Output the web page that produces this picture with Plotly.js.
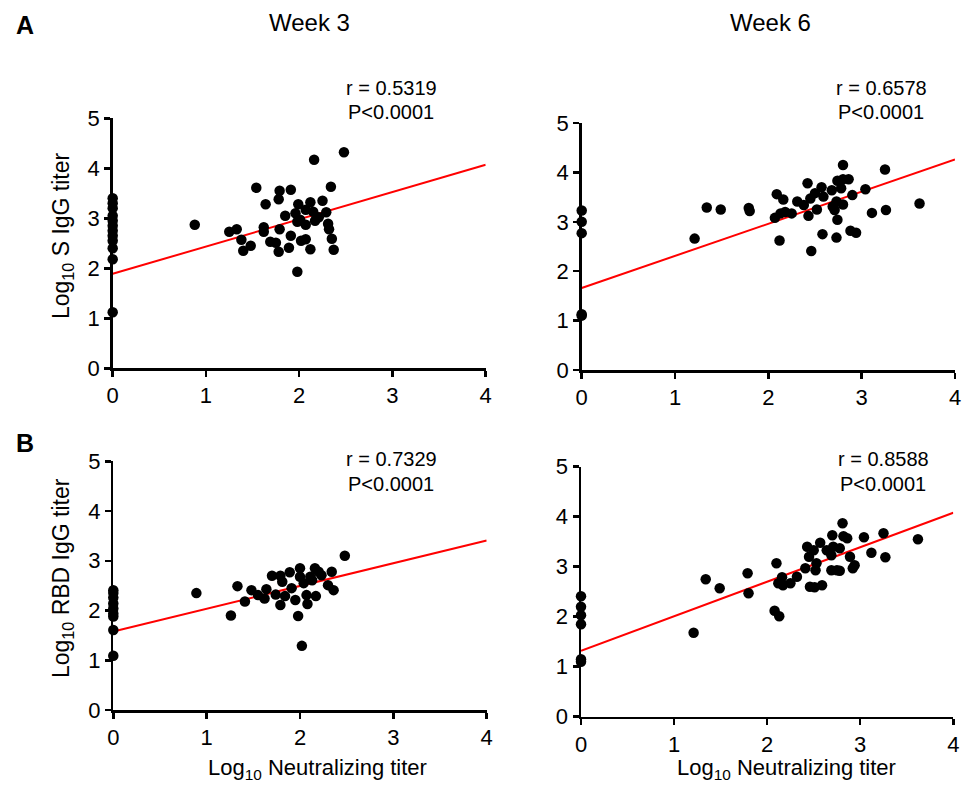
<!DOCTYPE html>
<html>
<head>
<meta charset="utf-8">
<script src="https://cdn.plot.ly/plotly-3.0.1.min.js"></script>
<style>
  html, body { margin: 0; padding: 0; background: #fff; }
  #chart { width: 967px; height: 786px; }
</style>
</head>
<body>
<div id="chart"></div>
<script>
// Week 3, S IgG vs neutralizing titer (log10)
const sW3x = [0,0,0,0,0,0,0,0,0,0,0,0,
  0.88,1.25,1.33,1.38,1.48,1.40,1.54,1.64,1.62,1.62,1.69,1.75,1.78,1.79,1.79,1.78,
  1.91,1.85,1.91,1.89,1.96,1.99,1.98,2.01,2.07,2.02,2.07,2.12,1.98,2.16,2.12,2.07,
  2.15,2.17,2.21,2.25,2.29,2.34,2.31,2.32,2.35,2.37,2.48];
const sW3y = [3.4,3.3,3.2,3.05,2.95,2.85,2.75,2.65,2.55,2.4,2.18,1.12,
  2.87,2.73,2.78,2.57,2.45,2.35,3.61,3.28,2.82,2.73,2.53,2.51,2.33,2.78,3.55,3.38,
  3.57,3.05,2.65,2.41,3.10,3.28,2.93,2.97,2.87,2.55,2.58,2.38,1.93,4.17,3.32,3.17,
  3.13,2.95,3.02,3.35,3.12,3.63,2.89,2.78,2.59,2.37,4.32];

// Week 6, S IgG vs neutralizing titer (log10)
const sW6x = [0,0,0,0,0,
  1.21,1.34,1.49,1.79,1.80,2.09,2.16,2.07,2.13,2.18,2.25,2.12,2.31,2.42,2.38,2.43,
  2.46,2.45,2.50,2.52,2.57,2.59,2.58,2.68,2.69,2.71,2.73,2.74,2.73,2.74,2.78,2.80,
  2.80,2.86,2.80,2.88,2.94,2.90,3.04,3.11,3.25,3.26,3.62];
const sW6y = [3.23,3.0,2.77,1.1,1.13,
  2.66,3.29,3.25,3.28,3.22,3.56,3.45,3.08,3.17,3.20,3.17,2.62,3.41,3.78,3.34,3.12,
  2.41,3.47,3.58,3.25,3.70,3.51,2.75,3.64,3.31,3.24,3.41,3.04,2.68,3.83,3.68,4.15,
  3.86,3.86,3.35,2.82,2.78,3.54,3.66,3.18,4.06,3.24,3.37];

// Week 3, RBD IgG vs neutralizing titer (log10)
const rW3x = [0,0,0,0,0,0,0,0,0,
  0.89,1.26,1.33,1.41,1.48,1.55,1.62,1.64,1.70,1.74,1.79,1.79,1.81,1.84,1.89,1.91,
  1.95,1.98,2.00,2.00,2.02,2.04,2.07,2.08,2.11,2.13,2.16,2.17,2.20,2.23,2.30,2.34,
  2.36,2.48];
const rW3y = [2.41,2.35,2.26,2.14,2.04,1.94,1.88,1.61,1.09,
  2.35,1.90,2.49,2.18,2.41,2.31,2.24,2.43,2.70,2.32,2.11,2.70,2.58,2.29,2.77,2.45,
  2.21,1.89,2.85,2.68,1.29,2.55,2.31,2.13,2.68,2.61,2.85,2.29,2.78,2.71,2.51,2.78,
  2.41,3.10];

// Week 6, RBD IgG vs neutralizing titer (log10)
const rW6x = [0,0,0,0,0,0,
  1.21,1.34,1.49,1.79,1.80,2.08,2.13,2.10,2.12,2.16,2.17,2.25,2.32,2.41,2.43,2.45,
  2.46,2.51,2.53,2.52,2.50,2.57,2.59,2.64,2.69,2.70,2.71,2.69,2.75,2.78,2.78,2.81,
  2.82,2.86,2.89,2.92,2.94,3.04,3.12,3.25,3.27,3.62];
const rW6y = [2.41,2.20,2.03,1.85,1.15,1.10,
  1.68,2.75,2.57,2.87,2.47,2.12,2.01,3.07,2.67,2.79,2.63,2.67,2.80,2.97,3.40,3.20,
  2.60,2.59,3.07,2.93,3.33,3.48,2.63,3.33,3.23,3.63,3.40,2.93,2.93,2.92,3.37,3.87,
  3.61,3.57,3.20,2.97,3.03,3.59,3.28,3.67,3.19,3.55];

// Linear regression lines: intercept and slope per panel
const fitIntercept = [1.89, 1.66, 1.58, 1.32];
const fitSlope     = [0.545, 0.65, 0.457, 0.69];
const fitRange     = [0, 4];

const rLabels = ['r = 0.5319', 'r = 0.6578', 'r = 0.7329', 'r = 0.8588'];
const pLabels = ['P<0.0001', 'P<0.0001', 'P<0.0001', 'P<0.0001'];
const weekLabels = ['Week 3', 'Week 6'];
const panelLetters = ['A', 'B'];
const yTitles = ['Log<sub>10</sub> S IgG titer', 'Log<sub>10</sub> RBD IgG titer'];
const xTitle = 'Log<sub>10</sub> Neutralizing titer';
const xTicks = [0, 1, 2, 3, 4];
const yTicks = [0, 1, 2, 3, 4, 5];

const FONT = 'Liberation Sans, Arial, sans-serif';
const panels = [
  {x: sW3x, y: sW3y, xa: 'x',  ya: 'y'},
  {x: sW6x, y: sW6y, xa: 'x2', ya: 'y2'},
  {x: rW3x, y: rW3y, xa: 'x3', ya: 'y3'},
  {x: rW6x, y: rW6y, xa: 'x4', ya: 'y4'}
];

const traces = [];
panels.forEach((p, i) => {
  traces.push({
    type: 'scatter', mode: 'lines',
    x: fitRange,
    y: fitRange.map(v => fitIntercept[i] + fitSlope[i] * v),
    xaxis: p.xa, yaxis: p.ya,
    line: {color: '#ff0000', width: 2},
    hoverinfo: 'skip', showlegend: false
  });
});
panels.forEach((p) => {
  traces.push({
    type: 'scatter', mode: 'markers',
    x: p.x, y: p.y, xaxis: p.xa, yaxis: p.ya,
    marker: {color: '#000', size: 10.5},
    cliponaxis: false, showlegend: false
  });
});

function baseAxis(domain, anchor, range, ticks) {
  return {
    domain: domain, anchor: anchor, range: range,
    tickvals: ticks, ticktext: ticks.map(String),
    showline: true, linecolor: '#000', linewidth: 2.5,
    ticks: 'outside', ticklen: 6, tickwidth: 2.5, tickcolor: '#000',
    showgrid: false, zeroline: false,
    tickfont: {family: FONT, size: 22, color: '#000'}
  };
}
const xAxis = (d, a) => baseAxis(d, a, [0, 4], xTicks);
const yAxis = (d, a) => baseAxis(d, a, [0, 5], yTicks);

const W = 967, H = 786;
const px = v => v / W;
const py = v => 1 - v / H;

function txt(text, x, y, size, extra) {
  return Object.assign({
    text: text, x: px(x), y: py(y), xref: 'paper', yref: 'paper',
    showarrow: false, xanchor: 'center', yanchor: 'middle',
    font: {family: FONT, size: size, color: '#000'}
  }, extra || {});
}

const annotations = [
  txt('<b>' + panelLetters[0] + '</b>', 25, 25, 25),
  txt('<b>' + panelLetters[1] + '</b>', 25, 443, 25),
  txt(weekLabels[0], 309, 23, 24),
  txt(weekLabels[1], 770, 23, 24),
  txt(rLabels[0], 391, 88, 20), txt(pLabels[0], 391, 112, 20),
  txt(rLabels[1], 881, 88, 20), txt(pLabels[1], 881, 112, 20),
  txt(rLabels[2], 391, 459, 20), txt(pLabels[2], 391, 484, 20),
  txt(rLabels[3], 883, 459, 20), txt(pLabels[3], 883, 484, 20),
  txt(yTitles[0], 62, 236, 23, {textangle: -90}),
  txt(yTitles[1], 62, 578, 23, {textangle: -90}),
  txt(xTitle, 317, 769, 22),
  txt(xTitle, 786, 769, 22)
];

const layout = {
  width: W, height: H,
  margin: {l: 0, r: 0, t: 0, b: 0},
  paper_bgcolor: '#fff', plot_bgcolor: '#fff',
  showlegend: false,
  xaxis:  xAxis([px(112.7), px(485.7)], 'y'),
  yaxis:  yAxis([py(368.3), py(118.3)], 'x'),
  xaxis2: xAxis([px(581.7), px(955)], 'y2'),
  yaxis2: yAxis([py(370), py(123)], 'x2'),
  xaxis3: xAxis([px(113.3), px(486.7)], 'y3'),
  yaxis3: yAxis([py(710), py(461.3)], 'x3'),
  xaxis4: xAxis([px(581), px(953.3)], 'y4'),
  yaxis4: yAxis([py(716.7), py(466.7)], 'x4'),
  annotations: annotations
};

Plotly.newPlot('chart', traces, layout, {displayModeBar: false, staticPlot: true});
</script>
</body>
</html>
